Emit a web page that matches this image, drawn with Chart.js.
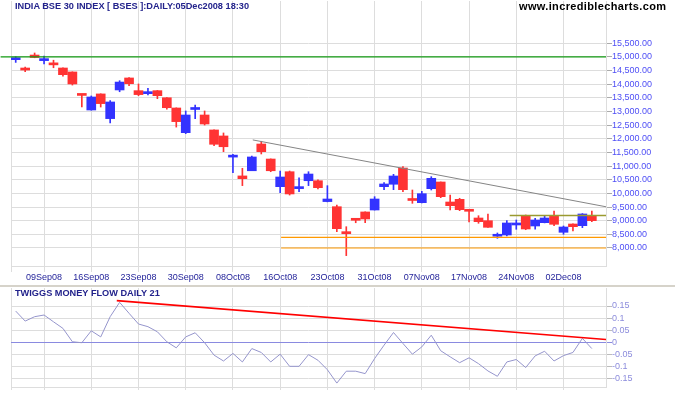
<!DOCTYPE html>
<html><head><meta charset="utf-8">
<script src="https://cdn.jsdelivr.net/npm/chart.js@4.4.1/dist/chart.umd.min.js"></script>
<style>
body{margin:0;background:#fff;width:675px;height:395px;overflow:hidden;position:relative;font-family:"Liberation Sans",Arial,sans-serif}
.t{position:absolute;white-space:nowrap;z-index:2}
.w{position:absolute;left:0}
</style></head><body>
<div class="w" style="top:0"><canvas id="c1" width="675" height="285"></canvas></div>
<div class="w" style="top:285px;width:675px;height:2px;background:#d6d3ca"></div>
<div class="w" style="top:287px"><canvas id="c2" width="675" height="108"></canvas></div>
<div class="t" style="left:15px;top:1px;font:bold 9.2px/11px 'Liberation Sans';color:#23238c">INDIA BSE 30 INDEX [ BSES ]:DAILY:05Dec2008 18:30</div>
<div class="t" style="left:519px;top:0;font:bold 11px/13px 'Liberation Sans';color:#000;letter-spacing:0.35px">www.incrediblecharts.com</div>
<div class="t" style="left:15px;top:288px;font:bold 9.2px/11px 'Liberation Sans';color:#23238c">TWIGGS MONEY FLOW DAILY 21</div>
<script>
// ---- data ----
const dates = ['04Sep08','05Sep08','08Sep08','09Sep08','10Sep08','11Sep08','12Sep08','15Sep08','16Sep08','17Sep08',
 '18Sep08','19Sep08','22Sep08','23Sep08','24Sep08','25Sep08','26Sep08','29Sep08','30Sep08','01Oct08',
 '03Oct08','06Oct08','07Oct08','08Oct08','10Oct08','13Oct08','14Oct08','15Oct08','16Oct08','17Oct08',
 '20Oct08','21Oct08','22Oct08','23Oct08','24Oct08','27Oct08','28Oct08','29Oct08','31Oct08','03Nov08',
 '04Nov08','05Nov08','06Nov08','07Nov08','10Nov08','11Nov08','12Nov08','14Nov08','17Nov08','18Nov08',
 '19Nov08','20Nov08','21Nov08','24Nov08','25Nov08','26Nov08','28Nov08','01Dec08','02Dec08','03Dec08',
 '04Dec08','05Dec08'];
const open = [14900,14595,15070,14865,14720,14595,14450,13600,13056,13645,
 12740,13790,14230,13765,13655,13765,13505,13130,12225,13075,
 12873,12325,12105,11330,10640,10830,11810,11260,10246,10795,
 10175,10465,10465,9700,9513,8585,9075,9320,9392,10246,
 10335,10930,9760,9660,10173,10418,9685,9784,9392,9099,
 9000,8430,8476,8843,9172,8806,8927,9172,8575,8879,
 8817,9161];
const high = [15010,14630,15145,15035,14880,14600,14455,13605,13570,13650,
 13400,14130,14240,14010,13850,13770,13510,13135,13020,13240,
 13020,12330,12215,11435,10920,11370,11910,11265,10820,10820,
 10575,10795,10500,10283,9575,8780,9080,9325,9880,10393,
 10700,10980,10125,10077,10613,10420,9942,9821,9420,9183,
 9246,8550,9000,9026,9209,9088,9172,9356,8806,8885,
 9260,9356];
const low = [14800,14460,14970,14740,14605,14300,13970,13165,13050,13165,
 12580,13725,13950,13580,13605,13470,13090,12430,12190,12740,
 12505,11750,11530,10760,10285,10830,11445,10795,10025,9940,
 10060,10285,10160,9690,8597,7720,8925,8925,9390,10136,
 10136,10063,9637,9655,10125,9843,9392,9367,8953,8905,
 8750,8355,8440,8685,8670,8685,8920,8817,8502,8623,
 8744,8963];
const close = [14920,14520,14980,14935,14710,14350,14010,13590,13533,13290,
 13350,14080,14020,13620,13705,13580,13140,12630,12873,13090,
 12543,11800,11710,11340,10540,11335,11530,10830,10601,9980,
 10245,10710,10210,9795,8707,8525,9015,9063,9795,10345,
 10638,10136,9740,9990,10553,9880,9550,9403,9345,8964,
 8758,8487,8916,8916,8696,9026,9099,8868,8769,8780,
 9246,9000];
const moneyFlow = [0.129,0.088,0.106,0.113,0.085,0.058,0.003,-0.001,0.048,0.023,
 0.106,0.165,0.120,0.076,0.065,0.044,0.003,-0.022,0.023,0.040,
 -0.001,-0.052,-0.076,-0.045,-0.080,-0.025,-0.041,-0.080,-0.048,-0.098,
 -0.098,-0.050,-0.073,-0.112,-0.167,-0.118,-0.118,-0.128,-0.066,-0.011,
 0.041,-0.004,-0.048,-0.018,0.030,-0.034,-0.059,-0.083,-0.063,-0.087,
 -0.117,-0.139,-0.080,-0.070,-0.103,-0.055,-0.036,-0.076,-0.054,-0.041,
 0.017,-0.025];
const tickIdx = [3,8,13,18,23,28,33,38,43,48,53,58];
const priceTicks = [8000,8500,9000,9500,10000,10500,11000,11500,12000,12500,13000,13500,14000,14500,15000,15500];
const mfTicks = [-0.15,-0.1,-0.05,0,0.05,0.1,0.15];
const resistanceLine = [[-1.6,15000],[62.5,15000]];
const downTrendLine = [[25.1,11960],[62.5,9510]];
const supportHigh = [[28.1,8390],[62.5,8390]];
const supportLow = [[28.1,8000],[62.5,8000]];
const rangeTopLine = [[52.3,9190],[62.5,9190]];
const mfTrendLine = [[10.7,0.172],[62.5,0.012]];
const xMin = -0.5, xMax = 62.5;

// ---- styles ----
const UP = '#3333ff', DN = '#ff3333', GRID = '#dddddd';
const FONT = "'Liberation Sans', Arial, sans-serif";
const col = dates.map((d,i) => close[i] >= open[i] ? UP : DN);
const pts = a => a.map(p => ({x:p[0], y:p[1]}));
const lineDs = (arr, color, w, extra) => Object.assign({type:'line', data:pts(arr), borderColor:color, borderWidth:w,
  pointRadius:0, fill:false, tension:0}, extra||{});

function xScale(showLabels, tickLen, h) {
  return {
    type:'linear', min:xMin, max:xMax, offset:false, position:'bottom',
    afterBuildTicks: s => { s.ticks = [xMin].concat(tickIdx).map(v => ({value:v})); },
    afterFit: s => { s.height = h; s.paddingLeft = 0; s.paddingRight = 0; },
    grid:{color:GRID, offset:false, tickLength:tickLen, tickColor:GRID},
    border:{color:GRID},
    ticks:{display:showLabels, autoSkip:false, maxRotation:0, padding:0,
      font:{family:FONT, size:9}, color:'#24249a',
      callback: v => v < 0 ? '' : dates[v]}
  };
}

Chart.defaults.animation = false;

new Chart(document.getElementById('c1'), {
  type:'bar',
  data:{ datasets:[
    lineDs(resistanceLine, '#129a12', 1.3, {clip:false}),
    lineDs(downTrendLine, '#858585', 1),
    lineDs(supportHigh, '#ff9900', 1.2),
    lineDs(supportLow, '#ff9900', 1.2),
    lineDs(rangeTopLine, '#9a9a30', 1.5),
    { data: dates.map((d,i) => ({x:i, y:[open[i], close[i]]})), backgroundColor:col, barThickness:9, minBarLength:2, grouped:false, borderWidth:0 },
    { data: dates.map((d,i) => ({x:i, y:[low[i], high[i]]})), backgroundColor:col, barThickness:1, grouped:false, borderWidth:0 }
  ]},
  options:{
    responsive:false, animation:false,
    layout:{padding:{left:11, top:1, right:0, bottom:0}},
    plugins:{legend:{display:false}, tooltip:{enabled:false}},
    scales:{
      x: xScale(true, 6, 19),
      y:{ type:'linear', position:'right', min:7340, max:17050,
        afterBuildTicks: s => { s.ticks = priceTicks.map(v => ({value:v})); },
        afterFit: s => { s.width = 69; s.paddingTop = 0; s.paddingBottom = 0; },
        grid:{color:GRID, tickLength:6, tickColor:'#aaaaaa'},
        border:{color:GRID},
        ticks:{padding:0, font:{family:FONT, size:9}, color:'#4f4ff5',
          callback: v => v.toLocaleString('en-US',{minimumFractionDigits:2, maximumFractionDigits:2})}
      }
    }
  }
});

new Chart(document.getElementById('c2'), {
  type:'line',
  data:{ datasets:[
    lineDs(mfTrendLine, '#ff0000', 1.6),
    { data: moneyFlow.map((v,i) => ({x:i, y:v})), borderColor:'#9595cc', borderWidth:1, pointRadius:0, tension:0, fill:false }
  ]},
  options:{
    responsive:false, animation:false,
    layout:{padding:{left:11, top:1, right:0, bottom:0}},
    plugins:{legend:{display:false}, tooltip:{enabled:false}},
    scales:{
      x: xScale(false, 3, 8),
      y:{ type:'linear', position:'right', min:-0.183, max:0.224,
        afterBuildTicks: s => { s.ticks = mfTicks.map(v => ({value:v})); },
        afterFit: s => { s.width = 69; s.paddingTop = 0; s.paddingBottom = 0; },
        grid:{color: c => c.tick && c.tick.value === 0 ? '#8a8ae0' : GRID, tickLength:6,
          tickColor: c => c.tick && c.tick.value === 0 ? '#8a8ae0' : '#bbbbbb'},
        border:{color:GRID},
        ticks:{padding:0, font:{family:FONT, size:9}, color:'#8c8cdc', callback: v => String(v)}
      }
    }
  }
});
</script>
</body></html>
